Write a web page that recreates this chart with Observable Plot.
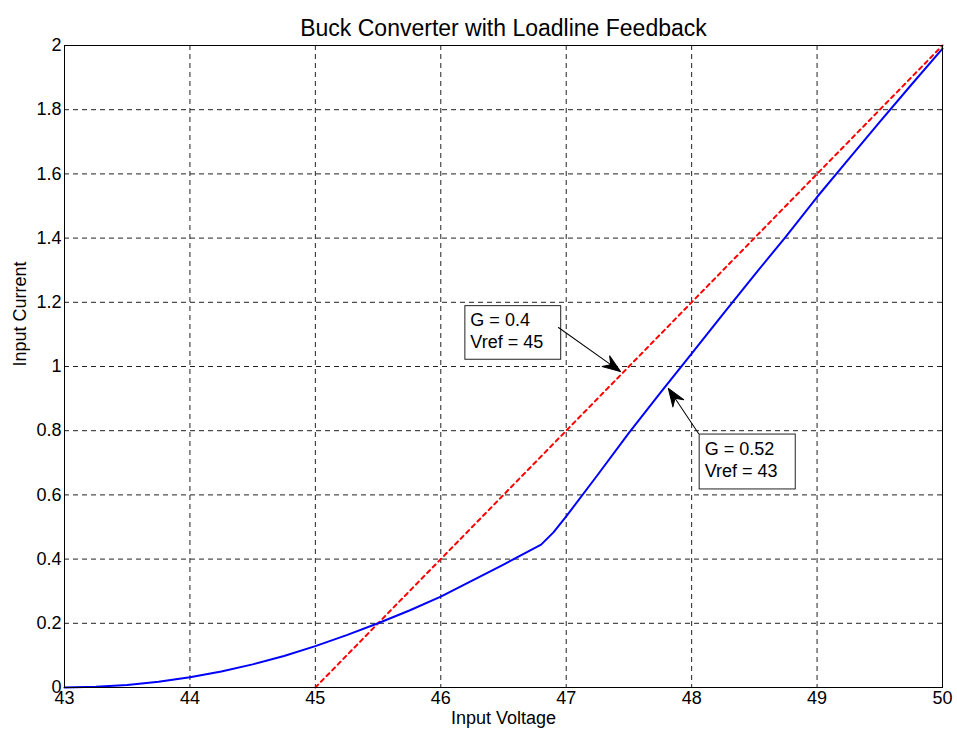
<!DOCTYPE html>
<html>
<head>
<meta charset="utf-8">
<script src="https://cdn.jsdelivr.net/npm/d3@7"></script>
<script src="https://cdn.jsdelivr.net/npm/@observablehq/plot@0.6"></script>
<style>
  html, body { margin: 0; padding: 0; background: #fff; }
  #chart { width: 957px; height: 732px; }
</style>
</head>
<body>
<div id="chart"></div>
<script>
// ---- data ----
const titleText = "Buck Converter with Loadline Feedback";
const xLabel = "Input Voltage";
const yLabel = "Input Current";
const xTicks = [43, 44, 45, 46, 47, 48, 49, 50];
const yTicks = [0, 0.2, 0.4, 0.6, 0.8, 1, 1.2, 1.4, 1.6, 1.8, 2];

// blue: G = 0.52, Vref = 43
const blueX = [43, 43.25, 43.5, 43.75, 44, 44.25, 44.5, 44.75, 45, 45.25, 45.5, 45.75, 46, 46.25, 46.5, 46.8, 46.9, 47, 47.25, 47.5, 47.75, 48, 48.25, 48.5, 48.75, 49, 49.25, 49.5, 49.75, 50];
const blueY = [0, 0.002, 0.008, 0.018, 0.032, 0.05, 0.072, 0.098, 0.129, 0.163, 0.2, 0.24, 0.283, 0.333, 0.383, 0.445, 0.484, 0.533, 0.662, 0.793, 0.918, 1.04, 1.163, 1.285, 1.404, 1.528, 1.645, 1.762, 1.877, 1.99];

// red dashed: G = 0.4, Vref = 45
const redX = [45, 50];
const redY = [0, 2];

// annotations (data coordinates)
const annoText = ["G = 0.4\nVref = 45", "G = 0.52\nVref = 43"];
const boxX1 = [46.196, 48.064];
const boxX2 = [46.96, 48.83];
const boxY1 = [1.188, 0.788];
const boxY2 = [1.021, 0.617];
const arrowFromX = [46.938, 48.055];
const arrowFromY = [1.1215, 0.791];
const arrowToX = [47.433, 47.814];
const arrowToY = [0.984, 0.932];

// ---- layout ----
const W = 957, H = 732;
const mL = 64, mR = 15, mT = 45, mB = 45;
const font = "'Liberation Sans', Arial, Helvetica, sans-serif";

const blue = blueX.map((x, i) => ({x, y: blueY[i]}));
const red = redX.map((x, i) => ({x, y: redY[i]}));

const sx = Plot.scale({x: {domain: [43, 50], range: [mL, W - mR]}});
const sy = Plot.scale({y: {domain: [0, 2], range: [H - mB, mT]}});

const annos = annoText.map((t, i) => {
  const px0 = sx.apply(arrowFromX[i]), py0 = sy.apply(arrowFromY[i]);
  const px1 = sx.apply(arrowToX[i]), py1 = sy.apply(arrowToY[i]);
  const dx = px1 - px0, dy = py1 - py0;
  return {
    text: t,
    x1: boxX1[i], x2: boxX2[i], y1: boxY1[i], y2: boxY2[i],
    ym: (boxY1[i] + boxY2[i]) / 2,
    tx: arrowToX[i], ty: arrowToY[i],
    len: Math.hypot(dx, dy),
    ang: Math.atan2(dx, -dy) * 180 / Math.PI
  };
});

const arrowShape = {
  draw(context, l) {
    context.moveTo(0, 0);
    context.lineTo(0, -l + 12);
    context.moveTo(0, -l);
    context.lineTo(-6.5, -l + 18);
    context.lineTo(0, -l + 12);
    context.lineTo(6.5, -l + 18);
    context.closePath();
  }
};

const chart = Plot.plot({
  width: W,
  height: H,
  marginLeft: mL,
  marginRight: mR,
  marginTop: mT,
  marginBottom: mB,
  style: {fontFamily: font, fontSize: "18px", background: "#fff", color: "#000"},
  x: {domain: [43, 50], ticks: xTicks, tickSize: 0, tickPadding: 4, label: null, tickFormat: d => String(d)},
  y: {domain: [0, 2], ticks: yTicks, tickSize: 0, tickPadding: 3, label: null, tickFormat: d => String(+d.toFixed(1))},
  length: {type: "identity"},
  marks: [
    Plot.gridX(xTicks, {stroke: "#222", strokeOpacity: 1, strokeWidth: 1, strokeDasharray: "5,4"}),
    Plot.gridY(yTicks, {stroke: "#222", strokeOpacity: 1, strokeWidth: 1, strokeDasharray: "5,4"}),
    Plot.line(red, {x: "x", y: "y", stroke: "#ff0000", strokeWidth: 2, strokeDasharray: "4,4"}),
    Plot.line(blue, {x: "x", y: "y", stroke: "#0000ff", strokeWidth: 2}),
    Plot.rect(annos, {x1: "x1", x2: "x2", y1: "y1", y2: "y2", fill: "white", stroke: "#222", strokeWidth: 1}),
    Plot.text(annos, {x: "x1", y: "ym", text: "text", textAnchor: "start", lineAnchor: "middle", dx: 5, dy: -3, lineHeight: 1.2, fontSize: 18, fill: "#000"}),
    Plot.vector(annos, {x: "tx", y: "ty", anchor: "end", length: "len", rotate: "ang", shape: arrowShape, stroke: "#000", fill: "#000", strokeWidth: 1}),
    Plot.frame({stroke: "#000", strokeWidth: 1}),
    Plot.text([titleText], {frameAnchor: "top", lineAnchor: "bottom", dy: -10, fontSize: 23, text: d => d, fill: "#000"}),
    Plot.text([xLabel], {frameAnchor: "bottom", lineAnchor: "middle", dy: 31, fontSize: 18, text: d => d, fill: "#000"}),
    Plot.text([yLabel], {frameAnchor: "left", lineAnchor: "middle", dx: -44, rotate: -90, fontSize: 18, text: d => d, fill: "#000"})
  ]
});

document.getElementById("chart").appendChild(chart);
</script>
</body>
</html>
